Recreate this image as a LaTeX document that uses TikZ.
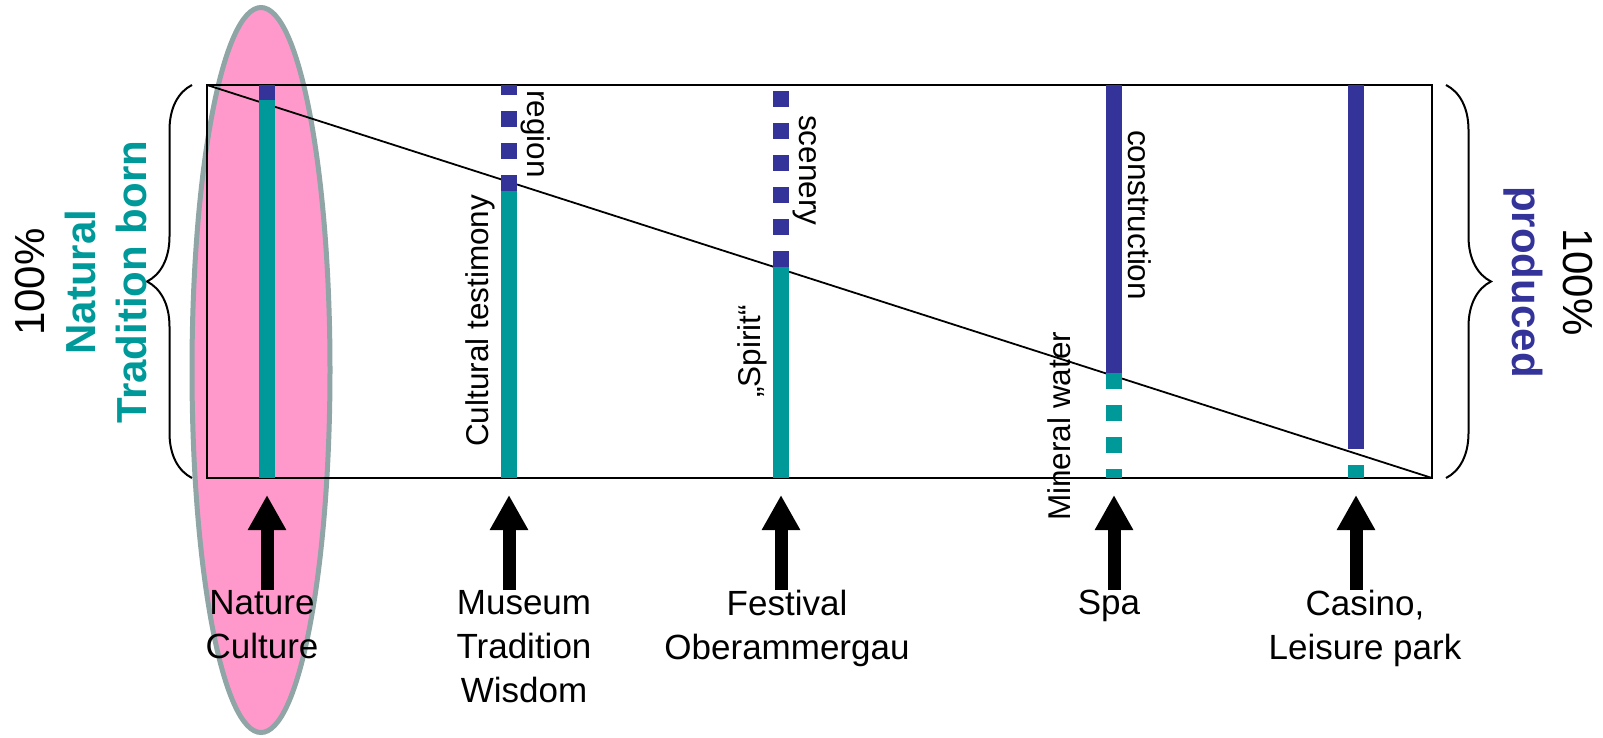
\documentclass[tikz,border=0pt]{standalone}
\usepackage{fontspec}
\setmainfont{Liberation Sans}
\usepackage{tikz}
\usetikzlibrary{arrows.meta}
\usetikzlibrary{positioning}
\usetikzlibrary{decorations.pathreplacing}

\definecolor{tealbar}{HTML}{009999}
\definecolor{bluebar}{HTML}{333399}
\definecolor{pinkfill}{HTML}{FF99CC}
\definecolor{ovalline}{HTML}{8FA5A6}

\tikzset{
  bar/.style={line width=16pt},
  dashbar/.style={line width=16pt, dash pattern=on 16pt off 16pt},
  uparrow/.style={line width=13pt, -{Triangle[width=36pt,length=35pt]}},
  sidelabel/.style={font=\fontsize{42}{51}\selectfont, align=center, inner sep=0pt},
  barlabel/.style={font=\fontsize{31.5}{38}\selectfont, inner sep=0pt, anchor=base west},
  caption/.style={font=\fontsize{35}{44}\selectfont, align=center, inner sep=0pt, anchor=north},
  curly/.style={decorate, decoration={brace, amplitude=45pt}, line width=2pt}
}

\begin{document}
\begin{tikzpicture}[x=1pt, y=-1pt]
  \useasboundingbox (0,0) rectangle (1603,737);

  % highlighted column
  \draw[line width=5pt, draw=ovalline, fill=pinkfill] (261,370) ellipse [x radius=69pt, y radius=362.5pt];

  % frame and diagonal
  \coordinate (tl) at (207,85);
  \coordinate (br) at (1432,478);
  \draw[line width=2pt] (tl) rectangle (br);
  \draw[line width=1.8pt] (tl) -- (br);

  % bars
  \draw[bar, bluebar] (267,85) -- (267,100);
  \draw[bar, tealbar] (267,100) -- (267,478);

  \draw[bar, tealbar] (509,191) -- (509,478);
  \draw[dashbar, bluebar] (509,191) -- (509,85);

  \draw[bar, tealbar] (781,266.7) -- (781,478);
  \draw[dashbar, bluebar] (781,266.7) -- (781,85);

  \draw[bar, bluebar] (1114,85) -- (1114,373.3);
  \draw[dashbar, tealbar] (1114,373.3) -- (1114,478);

  \draw[bar, bluebar] (1356,85) -- (1356,449);
  \draw[bar, tealbar] (1356,465) -- (1356,478);

  % labels along the bars
  \node[barlabel, rotate=-90] (region) at (527,90) {region};
  \node[barlabel, rotate=90] (testimony) at (488,447) {Cultural testimony};
  \node[barlabel, rotate=-90] (scenery) at (799,115) {scenery};
  \node[barlabel, rotate=90] (spirit) at (760,398) {„Spirit“};
  \node[barlabel, rotate=-90] (construction) at (1128,130) {construction};
  \node[barlabel, rotate=90] (mineral) at (1070,521) {Mineral water};

  % braces and side texts
  \draw[curly] (192,478) -- (192,85);
  \draw[curly] (1446,85) -- (1446,478);
  \node[sidelabel, rotate=90] (natural) at (81.5,282)
    {100\%\\\textcolor{tealbar}{\bfseries Natural}\\\textcolor{tealbar}{\bfseries Tradition born}};
  \node[sidelabel, rotate=-90] (produced) at (1548,282)
    {100\%\\\textcolor{bluebar}{\bfseries produced}};

  % arrows
  \foreach \x [count=\i] in {267,509,781,1114,1356} {
    \coordinate (foot\i) at (\x,590);
    \coordinate (tip\i) at (\x,495);
    \draw[uparrow] (foot\i) -- (tip\i);
  }

  % captions
  \node[caption] (nature) at (262,590) {Nature\\Culture};
  \node[caption] (museum) at (524,590) {Museum\\Tradition\\Wisdom};
  \node[caption] (festival) at (787,590) {Festival\\Oberammergau};
  \node[caption] (spa) at (1109,590) {Spa};
  \node[caption] (casino) at (1365,590) {Casino,\\Leisure park};
\end{tikzpicture}
\end{document}
